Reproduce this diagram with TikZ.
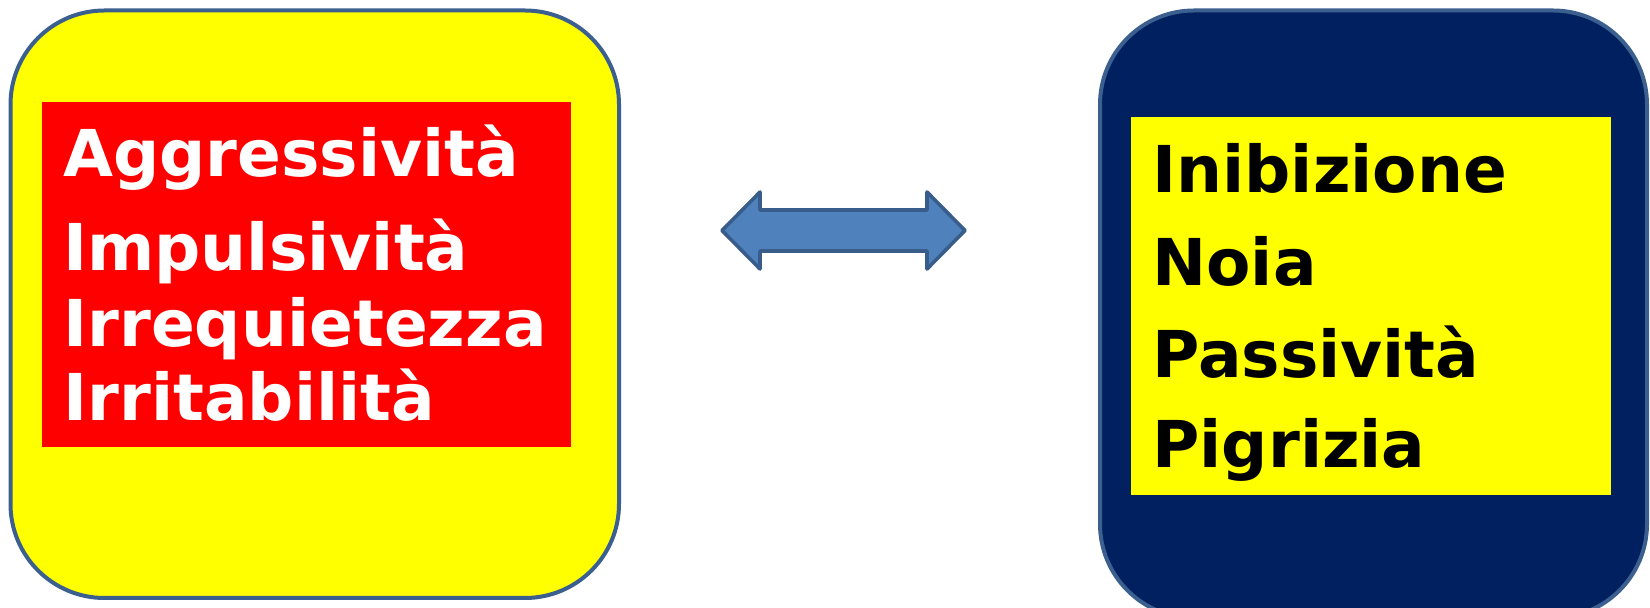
\documentclass[tikz,border=0pt]{standalone}
\usepackage{fontspec}
\setmainfont{DejaVu Sans}[BoldFont={DejaVu Sans Bold}]
\definecolor{edgeblue}{HTML}{3B5F8E}
\definecolor{navy}{HTML}{002060}
\definecolor{arrowblue}{HTML}{4F81BD}
\definecolor{arrowedge}{HTML}{385D8A}
\definecolor{pureyellow}{RGB}{255,255,0}
\definecolor{purered}{RGB}{255,0,0}
\tikzset{
  outerbox/.style={draw=edgeblue, line width=2pt, rounded corners=47pt},
  word/.style={anchor=base west, inner sep=0pt, font=\fontsize{32.3}{36}\selectfont\bfseries\upshape},
}
\begin{document}
\begin{tikzpicture}[x=0.5pt,y=-0.5pt]
\useasboundingbox (0,0) rectangle (1650,608);
% left
\draw[outerbox, fill=pureyellow] (10.5,10.5) rectangle (619,598);
\fill[purered] (42,102) rectangle (571,447);
\node[word, text=white] (a1) at (63,177) {Aggressività};
\node[word, text=white] (a2) at (63,271) {Impulsività};
\node[word, text=white] (a3) at (63,347) {Irrequietezza};
\node[word, text=white] (a4) at (63,421) {Irritabilità};
% right
\begin{scope}
\clip (0,0) rectangle (1650,608);
\draw[outerbox, fill=navy] (1100,10.5) rectangle (1647,618);
\end{scope}
\fill[pureyellow] (1131,117) rectangle (1611,495);
\node[word, text=black] (b1) at (1152,193) {Inibizione};
\node[word, text=black] (b2) at (1152,286) {Noia};
\node[word, text=black] (b3) at (1152,378) {Passività};
\node[word, text=black] (b4) at (1152,468) {Pigrizia};
% double arrow
\draw[fill=arrowblue, draw=arrowedge, line width=1.8pt, line join=round]
  (722,230.5) -- (760,192) -- (760,210) -- (927,210) -- (927,192) -- (965,230.5)
  -- (927,269) -- (927,251) -- (760,251) -- (760,269) -- cycle;
\end{tikzpicture}
\end{document}
